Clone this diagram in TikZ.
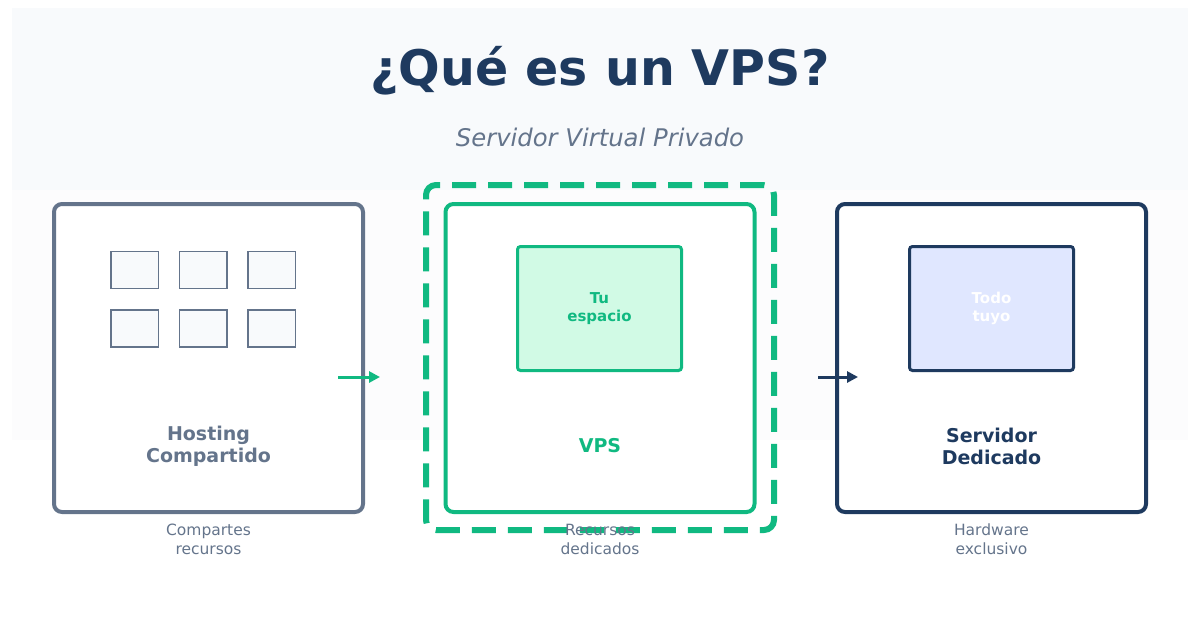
\documentclass[tikz,border=0pt]{standalone}
\usepackage{fontspec}
\setmainfont{DejaVu Sans}
\usepackage{xcolor}
\usetikzlibrary{arrows.meta,positioning}
\definecolor{slate}{HTML}{64748B}
\definecolor{mint}{HTML}{10B981}
\definecolor{navy}{HTML}{1E3A5F}
\definecolor{mintbg}{HTML}{D1FAE5}
\definecolor{indigobg}{HTML}{E0E7FF}
\definecolor{paper}{HTML}{F8FAFC}
\definecolor{haze}{HTML}{FCFCFD}
\newcommand{\fsz}[2]{\fontsize{#1}{#2}\selectfont}

\begin{document}
\begin{tikzpicture}[x=1pt, y=-1pt,
      panel/.style={draw, rounded corners=8pt, line width=4pt, fill=white, inner sep=0pt, minimum width=309pt, minimum height=308pt},
      cell/.style={draw, rounded corners=3pt, line width=3pt, inner sep=0pt, minimum width=164pt, minimum height=124pt, align=center, font=\bfseries\fsz{15}{18}},
      slot/.style={draw=slate, line width=1.5pt, fill=paper, inner sep=0pt, minimum width=47.5pt, minimum height=37pt},
      boxlabel/.style={font=\bfseries\fsz{19}{22}, align=center},
      note/.style={font=\fsz{15.5}{19}, text=slate, align=center},
      arr/.style={-{Triangle[length=11pt,width=11pt]}, line width=3pt}
    ]
      \useasboundingbox (0,0) rectangle (1200,630);
      \fill[haze] (12,8) rectangle (1188,440);
      \fill[paper] (12,8) rectangle (1188,190);
      \node[font=\bfseries\fsz{49}{58}, text=navy] (title) at (600,71) {¿Qué es un VPS?};
      \node[font=\itshape\fsz{24.3}{28}, text=slate] (sub) at (600,137) {Servidor Virtual Privado};

      \node[panel, draw=slate] (host) at (208.5,358) {};
      \foreach \i in {0,1,2}
        \foreach \j in {0,1}
          \node[slot] (slot\i\j) at ({134.5+68.5*\i},{270+58.5*\j}) {};
      \node[boxlabel, text=slate] (hostname) at (208.5,446) {Hosting\\Compartido};
      \node[note] (hostnote) at (208.5,539) {Compartes\\recursos};

      \node[draw=mint, line width=6pt, dash pattern=on 24pt off 12pt, rounded corners=10pt, minimum width=348pt, minimum height=345pt] (vpsdash) at (600,357.5) {};
      \node[panel, draw=mint] (vps) at (600,358) {};
      \node[cell, draw=mint, fill=mintbg, text=mint] (space) at (599.5,308.5) {Tu\\espacio};
      \node[boxlabel, text=mint] (vpsname) at (600,446) {VPS};
      \node[note] (vpsnote) at (600,539) {Recursos\\dedicados};

      \node[panel, draw=navy] (ded) at (991.5,358) {};
      \node[cell, draw=navy, fill=indigobg, text=white] (own) at (991.5,308.5) {Todo\\tuyo};
      \node[boxlabel, text=navy] (dedname) at (991.5,446) {Servidor\\Dedicado};
      \node[note] (dednote) at (991.5,539) {Hardware\\exclusivo};

      \draw[arr, mint] ([shift={(-27pt,-19pt)}]host.east) -- ([shift={(15pt,-19pt)}]host.east);
      \draw[arr, navy] ([shift={(-17pt,-19pt)}]ded.west) -- ([shift={(23pt,-19pt)}]ded.west);
    \end{tikzpicture}
\end{document}
